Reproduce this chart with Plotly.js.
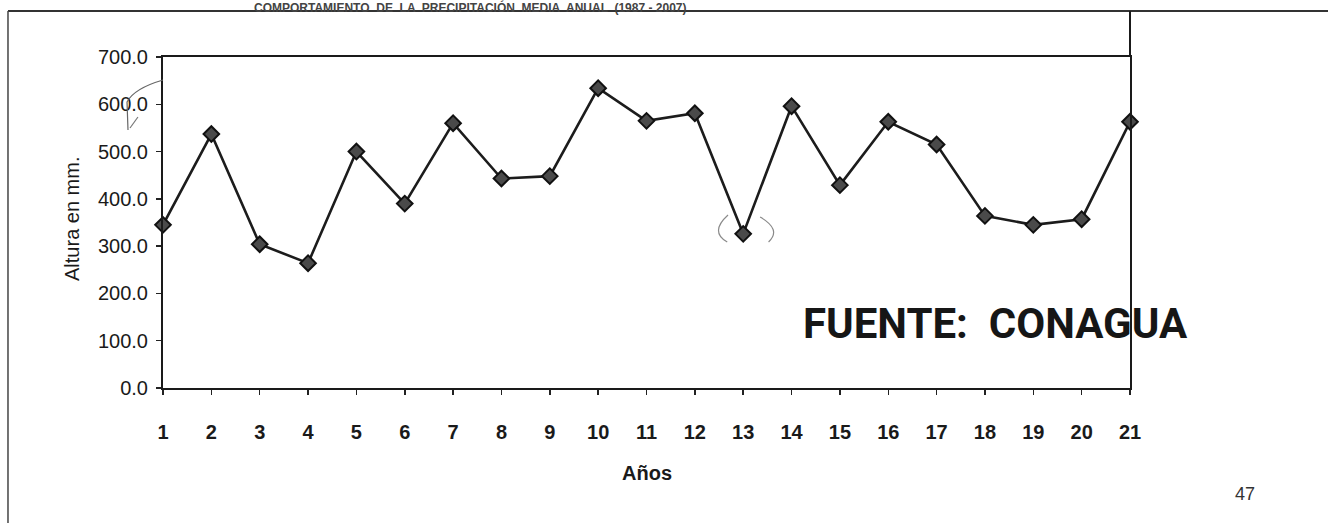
<!DOCTYPE html>
<html>
<head>
<meta charset="utf-8">
<script src="https://cdn.plot.ly/plotly-3.0.1.min.js"></script>
<style>
  html, body { margin: 0; padding: 0; background: #ffffff; }
  #chart { width: 1328px; height: 523px; }
</style>
</head>
<body>
<div id="chart"></div>
<script>
// ---- data ----
const anios = [1, 2, 3, 4, 5, 6, 7, 8, 9, 10, 11, 12, 13, 14, 15, 16, 17, 18, 19, 20, 21];
const alturaMm = [345, 537, 304, 264, 500, 390, 560, 443, 448, 634, 565, 581, 326, 596, 429, 563, 515, 364, 345, 357, 563];
const yTickVals = [0, 100, 200, 300, 400, 500, 600, 700];
const yTickText = ['0.0', '100.0', '200.0', '300.0', '400.0', '500.0', '600.0', '700.0'];
const xTickText = anios.map(String);

const FONT = 'Liberation Sans, Arial, sans-serif';

const trace = {
  type: 'scatter',
  mode: 'lines+markers',
  x: anios,
  y: alturaMm,
  cliponaxis: false,
  line: { color: '#1c1c1c', width: 2.6 },
  marker: { symbol: 'diamond', size: 12, color: '#4a4a4a', line: { color: '#111111', width: 2 } },
  hoverinfo: 'x+y',
  showlegend: false
};

const layout = {
  width: 1328,
  height: 523,
  margin: { l: 163, r: 198, t: 57, b: 135 },
  paper_bgcolor: '#ffffff',
  plot_bgcolor: '#ffffff',
  font: { family: FONT, color: '#1a1a1a', size: 20 },
  xaxis: {
    range: [1, 21],
    tickmode: 'array',
    tickvals: anios,
    ticktext: xTickText,
    ticks: 'outside',
    ticklen: 5,
    tickwidth: 1.5,
    tickcolor: '#222',
    showline: true,
    linecolor: '#1a1a1a',
    linewidth: 2,
    mirror: true,
    showgrid: false,
    zeroline: false,
    ticklabelstandoff: 20,
    tickfont: { family: FONT, size: 20, color: '#1a1a1a', weight: 'bold' }
  },
  xaxis2: {
    overlaying: 'x',
    anchor: 'y',
    range: [1, 21],
    tickmode: 'array',
    tickvals: anios,
    ticks: 'inside',
    ticklen: 5,
    tickwidth: 1.5,
    tickcolor: '#222',
    showticklabels: false,
    showline: false,
    showgrid: false,
    zeroline: false
  },
  yaxis: {
    range: [0, 700],
    tickmode: 'array',
    tickvals: yTickVals,
    ticktext: yTickText,
    ticks: 'outside',
    ticklen: 5,
    tickwidth: 1.5,
    tickcolor: '#222',
    showline: true,
    linecolor: '#1a1a1a',
    linewidth: 2,
    mirror: true,
    showgrid: false,
    zeroline: false,
    ticklabelstandoff: 4,
    tickfont: { family: FONT, size: 20, color: '#1a1a1a' }
  },
  yaxis2: {
    overlaying: 'y',
    anchor: 'x',
    side: 'left',
    range: [0, 700],
    tickmode: 'array',
    tickvals: yTickVals,
    ticks: 'inside',
    ticklen: 5,
    tickwidth: 1.5,
    tickcolor: '#222',
    showticklabels: false,
    showline: false,
    showgrid: false,
    zeroline: false
  },
  shapes: [
    // page frame (top and left) of the scanned document
    { type: 'line', xref: 'paper', yref: 'paper', x0: -0.1603, x1: 1.2048, y0: 1.139, y1: 1.139,
      line: { color: '#333', width: 2 } },
    { type: 'line', xref: 'paper', yref: 'paper', x0: -0.1603, x1: -0.1603, y0: 1.139, y1: -0.41,
      line: { color: '#444', width: 1.5 } },
    // right frame line continuing upward to the page frame
    { type: 'line', xref: 'paper', yref: 'paper', x0: 1, x1: 1, y0: 1, y1: 1.139,
      line: { color: '#1a1a1a', width: 2 } },
    // hand-drawn pen marks on the scan
    { type: 'path', xref: 'x', yref: 'y', path: 'M 12.686,365.8 Q 12.30,330 12.67,308.7',
      line: { color: '#8a8a8a', width: 1.2 } },
    { type: 'path', xref: 'x', yref: 'y', path: 'M 13.35,361.6 Q 13.80,335 13.525,308.7',
      line: { color: '#8a8a8a', width: 1.2 } },
    { type: 'path', xref: 'paper', yref: 'paper',
      path: 'M 0,0.9305 Q -0.030,0.905 -0.0372,0.864 L -0.0362,0.7795',
      line: { color: '#666', width: 1.2 } },
    { type: 'path', xref: 'paper', yref: 'paper',
      path: 'M -0.0341,0.7855 L -0.0259,0.8187',
      line: { color: '#777', width: 1.2 } }
  ],
  annotations: [
    { text: 'COMPORTAMIENTO  DE  LA  PRECIPITACIÓN  MEDIA  ANUAL  (1987 - 2007)', xref: 'paper', yref: 'paper',
      x: 0.3175, y: 1.1752, xanchor: 'center', yanchor: 'top', showarrow: false, borderpad: 0,
      font: { family: FONT, size: 12, color: '#444', weight: 'bold' } },
    { text: 'Altura en mm.', xref: 'paper', yref: 'paper', x: -0.0941, y: 0.5106,
      xanchor: 'center', yanchor: 'middle', textangle: -90, showarrow: false,
      font: { family: FONT, size: 20, color: '#1a1a1a' } },
    { text: 'Años', xref: 'paper', yref: 'paper', x: 0.5, y: -0.2568,
      xanchor: 'center', yanchor: 'middle', showarrow: false,
      font: { family: FONT, size: 20, color: '#1a1a1a', weight: 'bold' } },
    { text: 'FUENTE:  CONAGUA', xref: 'paper', yref: 'paper', x: 0.8604, y: 0.1934,
      xanchor: 'center', yanchor: 'middle', showarrow: false,
      font: { family: 'Roboto, Liberation Sans, sans-serif', size: 42, color: '#161616', weight: 'bold' } },
    { text: '47', xref: 'paper', yref: 'paper', x: 1.1189, y: -0.3202,
      xanchor: 'center', yanchor: 'middle', showarrow: false,
      font: { family: FONT, size: 18, color: '#333' } }
  ]
};

Plotly.newPlot('chart', [trace], layout, { displayModeBar: false, staticPlot: true });
</script>
</body>
</html>
